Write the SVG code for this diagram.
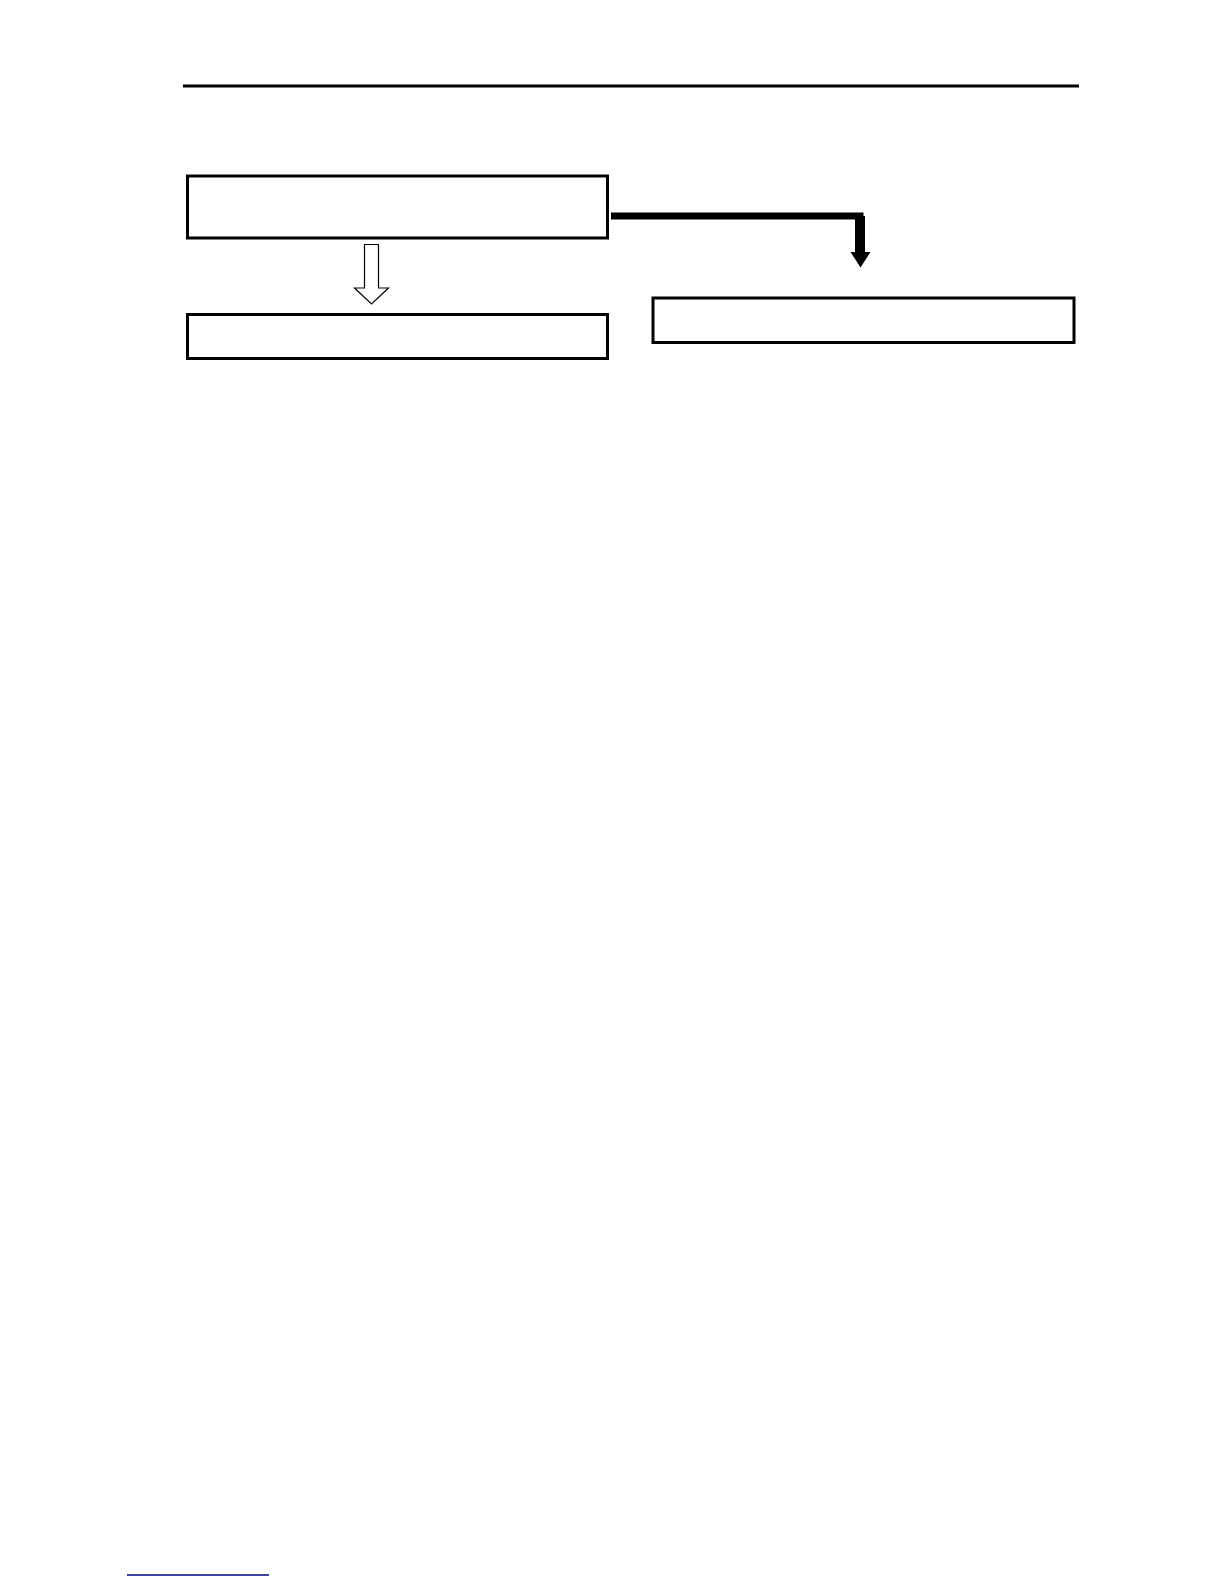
<svg xmlns="http://www.w3.org/2000/svg" width="1224" height="1584" viewBox="0 0 1224 1584">
<style>
.box{fill:#fff;stroke:#000;stroke-width:3}
</style>
<rect x="0" y="0" width="1224" height="1584" fill="#fff"/>
<line x1="183" y1="86" x2="1079" y2="86" stroke="#000" stroke-width="3"/>
<line x1="127" y1="1575" x2="269" y2="1575" stroke="#000080" stroke-width="1.3"/>
<g id="node1"><rect class="box" x="187.5" y="176" width="420" height="62"/></g>
<g id="node2"><rect class="box" x="187.5" y="314.5" width="420" height="44"/></g>
<g id="node3"><rect class="box" x="653" y="298" width="421" height="44.5"/></g>
<g id="connectors">
<path d="M364.5,244.5 H378.5 V288 H388.5 L371.5,304 L354.5,288 H364.5 Z" fill="#fff" stroke="#000" stroke-width="1.2"/>
<path d="M611,216 H860 V252" fill="none" stroke="#000" stroke-width="7"/>
<rect x="855" y="216" width="10" height="37" fill="#000"/>
<polygon points="850.5,252 870.5,252 860.5,267.5" fill="#000"/>
</g>
</svg>
